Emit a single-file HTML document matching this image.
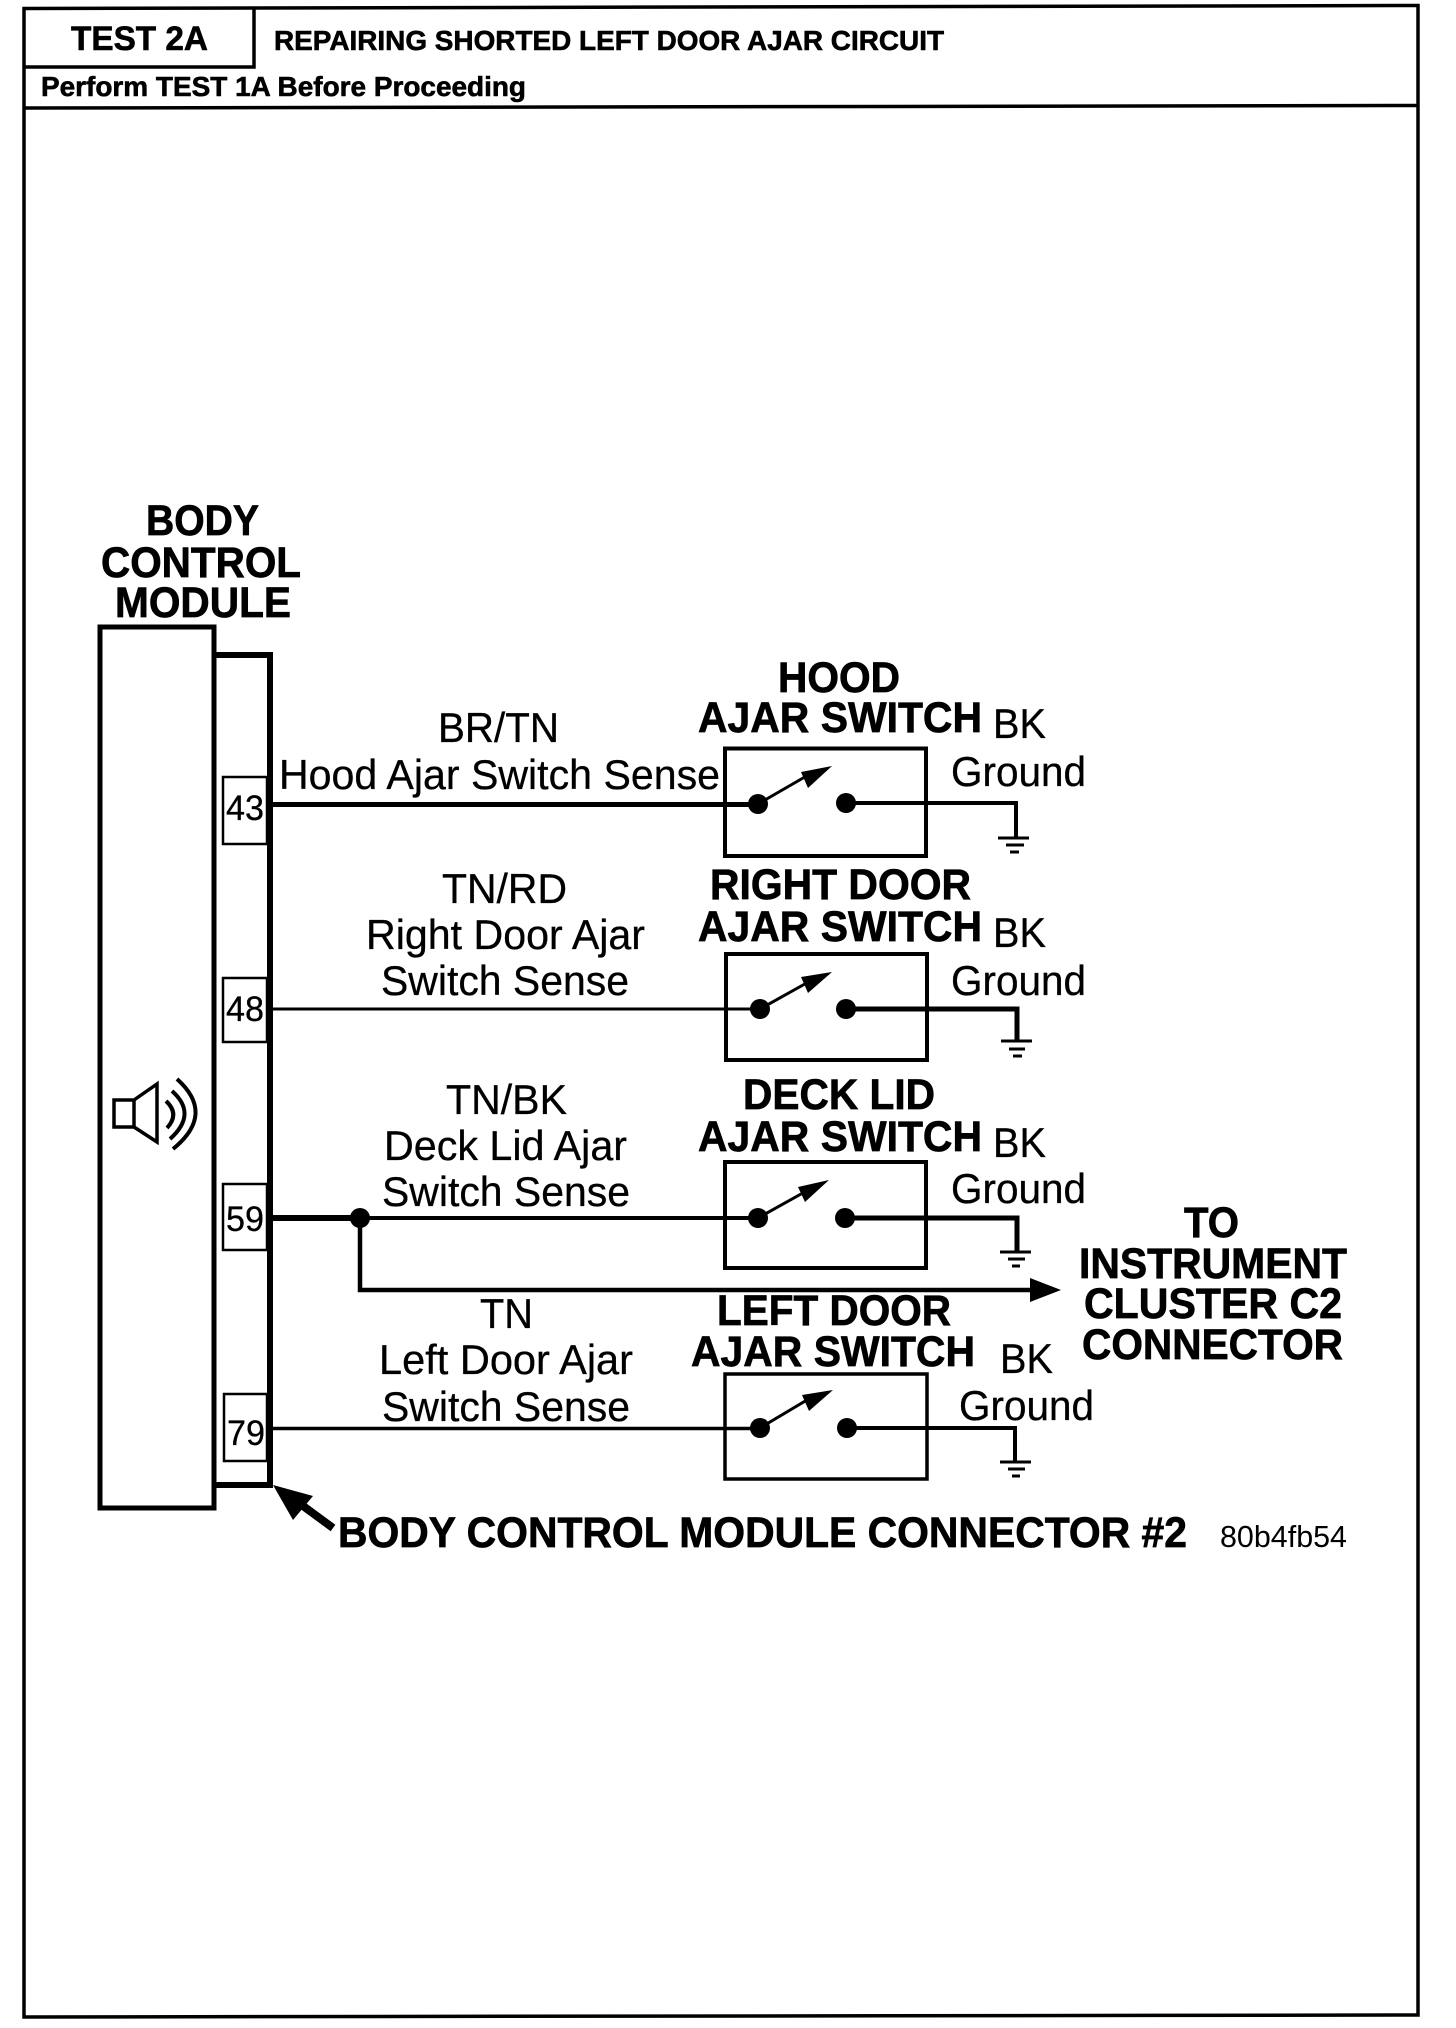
<!DOCTYPE html>
<html><head><meta charset="utf-8"><style>
html,body{margin:0;padding:0;background:#fff}
svg{display:block}
text{font-family:"Liberation Sans",sans-serif;fill:#000}
.b{font-weight:bold;font-size:43px;stroke:#000;stroke-width:.7px}
.r{font-size:42px;stroke:#000;stroke-width:.3px}
.p{font-size:35px;stroke:#000;stroke-width:.3px}
.h{font-weight:bold;stroke:#000;stroke-width:.6px}
</style></head><body>
<svg width="1456" height="2028" viewBox="0 0 1456 2028" xmlns="http://www.w3.org/2000/svg">
<rect width="1456" height="2028" fill="#fff"/>
<g fill="none" stroke="#000">
<path d="M24 8.5L1418 5.5V2015L24 2017Z" stroke-width="3.5"/>
<path d="M24 67H254V8M24 108L1418 105.5" stroke-width="3.5"/>
<path d="M100 627H214V1508H100Z" stroke-width="5"/>
<path d="M214 655H270V1485H214" stroke-width="6"/>
<rect x="223" y="777" width="44" height="67" stroke-width="2.5"/>
<rect x="223" y="978" width="44" height="64" stroke-width="2.5"/>
<rect x="223" y="1184" width="44" height="66" stroke-width="2.5"/>
<rect x="224" y="1394" width="43" height="67" stroke-width="2.5"/>
<rect x="725" y="748.5" width="201" height="107.5" stroke-width="4"/>
<rect x="726" y="954" width="201" height="106" stroke-width="4"/>
<rect x="725" y="1162" width="201" height="106" stroke-width="4"/>
<rect x="725" y="1374" width="202" height="105" stroke-width="3.5"/>
<path d="M273 804.5H758" stroke-width="5"/>
<path d="M273 1009H760" stroke-width="3"/>
<path d="M273 1218H360" stroke-width="6"/>
<path d="M360 1218H758" stroke-width="4"/>
<path d="M273 1428.5H760" stroke-width="3.5"/>
<path d="M360 1218V1290H1035" stroke-width="4.5"/>
<path d="M846 803H1016V838" stroke-width="4"/>
<path d="M846 1009H1017V1040" stroke-width="5"/>
<path d="M845 1218H1017V1252" stroke-width="5"/>
<path d="M847 1428H1015V1461" stroke-width="4"/>
<path d="M998 838H1029M1006 845H1024M1010 852H1019" stroke-width="3"/>
<path d="M1001 1041H1032M1009 1049H1025M1013 1056H1022" stroke-width="3"/>
<path d="M1000 1252H1031M1008 1259H1025M1012 1266H1020" stroke-width="3"/>
<path d="M1000 1462H1031M1008 1469H1025M1012 1476H1020" stroke-width="3"/>
<path d="M758 804L810 774" stroke-width="3"/>
<path d="M760 1009L812 980" stroke-width="3"/>
<path d="M758 1218L810 1189" stroke-width="3"/>
<path d="M760 1428L812 1397" stroke-width="3"/>
<path d="M114 1100H134V1127H114ZM134 1100L157 1084V1142L134 1127" stroke-width="3.5"/>
<path d="M166 1101Q180 1114 167 1128M172 1091Q198 1114 170 1139M177 1079Q216 1114 173 1149" stroke-width="4"/>
<path d="M299 1503L333 1528" stroke-width="8"/>
</g>
<g fill="#000">
<path d="M273 1485L313 1496L293 1520Z"/>
<path d="M1061 1290L1030 1278V1302Z"/>
<path d="M832 766L801 772L808 788Z"/>
<path d="M832 972L801 977L808 993Z"/>
<path d="M829 1180L798 1187L805 1202Z"/>
<path d="M833 1390L802 1395L809 1411Z"/>
<ellipse cx="758" cy="804" rx="10" ry="10"/><ellipse cx="846" cy="803" rx="10" ry="10"/>
<ellipse cx="760" cy="1009" rx="10" ry="10"/><ellipse cx="846" cy="1009" rx="10" ry="10"/>
<ellipse cx="758" cy="1218" rx="10" ry="10"/><ellipse cx="845" cy="1218" rx="10" ry="10"/>
<ellipse cx="760" cy="1428" rx="10" ry="10"/><ellipse cx="847" cy="1428" rx="10" ry="10"/>
<circle cx="360" cy="1218" r="10"/>
</g>
<text class="h" x="71" y="50" font-size="34" textLength="137" lengthAdjust="spacingAndGlyphs">TEST 2A</text>
<text class="h" x="274" y="50" font-size="28" textLength="670" lengthAdjust="spacingAndGlyphs">REPAIRING SHORTED LEFT DOOR AJAR CIRCUIT</text>
<text class="h" x="41" y="96" font-size="28" textLength="485" lengthAdjust="spacingAndGlyphs">Perform TEST 1A Before Proceeding</text>

<text class="b" x="146" y="535" textLength="113" lengthAdjust="spacingAndGlyphs">BODY</text>
<text class="b" x="101" y="577" textLength="200" lengthAdjust="spacingAndGlyphs">CONTROL</text>
<text class="b" x="115" y="617" textLength="176" lengthAdjust="spacingAndGlyphs">MODULE</text>

<text class="r" x="438" y="742" textLength="121" lengthAdjust="spacingAndGlyphs">BR/TN</text>
<text class="r" x="279" y="789" textLength="441" lengthAdjust="spacingAndGlyphs">Hood Ajar Switch Sense</text>
<text class="r" x="442" y="903" textLength="125" lengthAdjust="spacingAndGlyphs">TN/RD</text>
<text class="r" x="366" y="949" textLength="279" lengthAdjust="spacingAndGlyphs">Right Door Ajar</text>
<text class="r" x="381" y="995" textLength="248" lengthAdjust="spacingAndGlyphs">Switch Sense</text>
<text class="r" x="446" y="1114" textLength="121" lengthAdjust="spacingAndGlyphs">TN/BK</text>
<text class="r" x="384" y="1160" textLength="243" lengthAdjust="spacingAndGlyphs">Deck Lid Ajar</text>
<text class="r" x="382" y="1206" textLength="248" lengthAdjust="spacingAndGlyphs">Switch Sense</text>
<text class="r" x="480" y="1328" textLength="53" lengthAdjust="spacingAndGlyphs">TN</text>
<text class="r" x="379" y="1374" textLength="254" lengthAdjust="spacingAndGlyphs">Left Door Ajar</text>
<text class="r" x="382" y="1421" textLength="248" lengthAdjust="spacingAndGlyphs">Switch Sense</text>

<text class="p" x="226" y="820" textLength="38" lengthAdjust="spacingAndGlyphs">43</text>
<text class="p" x="226" y="1021" textLength="38" lengthAdjust="spacingAndGlyphs">48</text>
<text class="p" x="226" y="1231" textLength="38" lengthAdjust="spacingAndGlyphs">59</text>
<text class="p" x="227" y="1445" textLength="38" lengthAdjust="spacingAndGlyphs">79</text>

<text class="b" x="778" y="692" textLength="122" lengthAdjust="spacingAndGlyphs">HOOD</text>
<text class="b" x="698" y="732" textLength="284" lengthAdjust="spacingAndGlyphs">AJAR SWITCH</text>
<text class="r" x="993" y="738" textLength="53" lengthAdjust="spacingAndGlyphs">BK</text>
<text class="r" x="951" y="786" textLength="135" lengthAdjust="spacingAndGlyphs">Ground</text>

<text class="b" x="710" y="899" textLength="261" lengthAdjust="spacingAndGlyphs">RIGHT DOOR</text>
<text class="b" x="698" y="941" textLength="284" lengthAdjust="spacingAndGlyphs">AJAR SWITCH</text>
<text class="r" x="993" y="947" textLength="53" lengthAdjust="spacingAndGlyphs">BK</text>
<text class="r" x="951" y="995" textLength="135" lengthAdjust="spacingAndGlyphs">Ground</text>

<text class="b" x="743" y="1109" textLength="192" lengthAdjust="spacingAndGlyphs">DECK LID</text>
<text class="b" x="698" y="1151" textLength="284" lengthAdjust="spacingAndGlyphs">AJAR SWITCH</text>
<text class="r" x="993" y="1157" textLength="53" lengthAdjust="spacingAndGlyphs">BK</text>
<text class="r" x="951" y="1203" textLength="135" lengthAdjust="spacingAndGlyphs">Ground</text>

<text class="b" x="717" y="1325" textLength="234" lengthAdjust="spacingAndGlyphs">LEFT DOOR</text>
<text class="b" x="691" y="1366" textLength="284" lengthAdjust="spacingAndGlyphs">AJAR SWITCH</text>
<text class="r" x="1000" y="1373" textLength="53" lengthAdjust="spacingAndGlyphs">BK</text>
<text class="r" x="959" y="1420" textLength="135" lengthAdjust="spacingAndGlyphs">Ground</text>

<text class="b" x="1184" y="1237" textLength="55" lengthAdjust="spacingAndGlyphs">TO</text>
<text class="b" x="1079" y="1278" textLength="268" lengthAdjust="spacingAndGlyphs">INSTRUMENT</text>
<text class="b" x="1084" y="1318" textLength="258" lengthAdjust="spacingAndGlyphs">CLUSTER C2</text>
<text class="b" x="1082" y="1359" textLength="261" lengthAdjust="spacingAndGlyphs">CONNECTOR</text>

<text class="b" x="338" y="1547" textLength="849" lengthAdjust="spacingAndGlyphs">BODY CONTROL MODULE CONNECTOR #2</text>
<text x="1220" y="1547" font-size="31" textLength="127" lengthAdjust="spacingAndGlyphs">80b4fb54</text>
</svg>
</body></html>
